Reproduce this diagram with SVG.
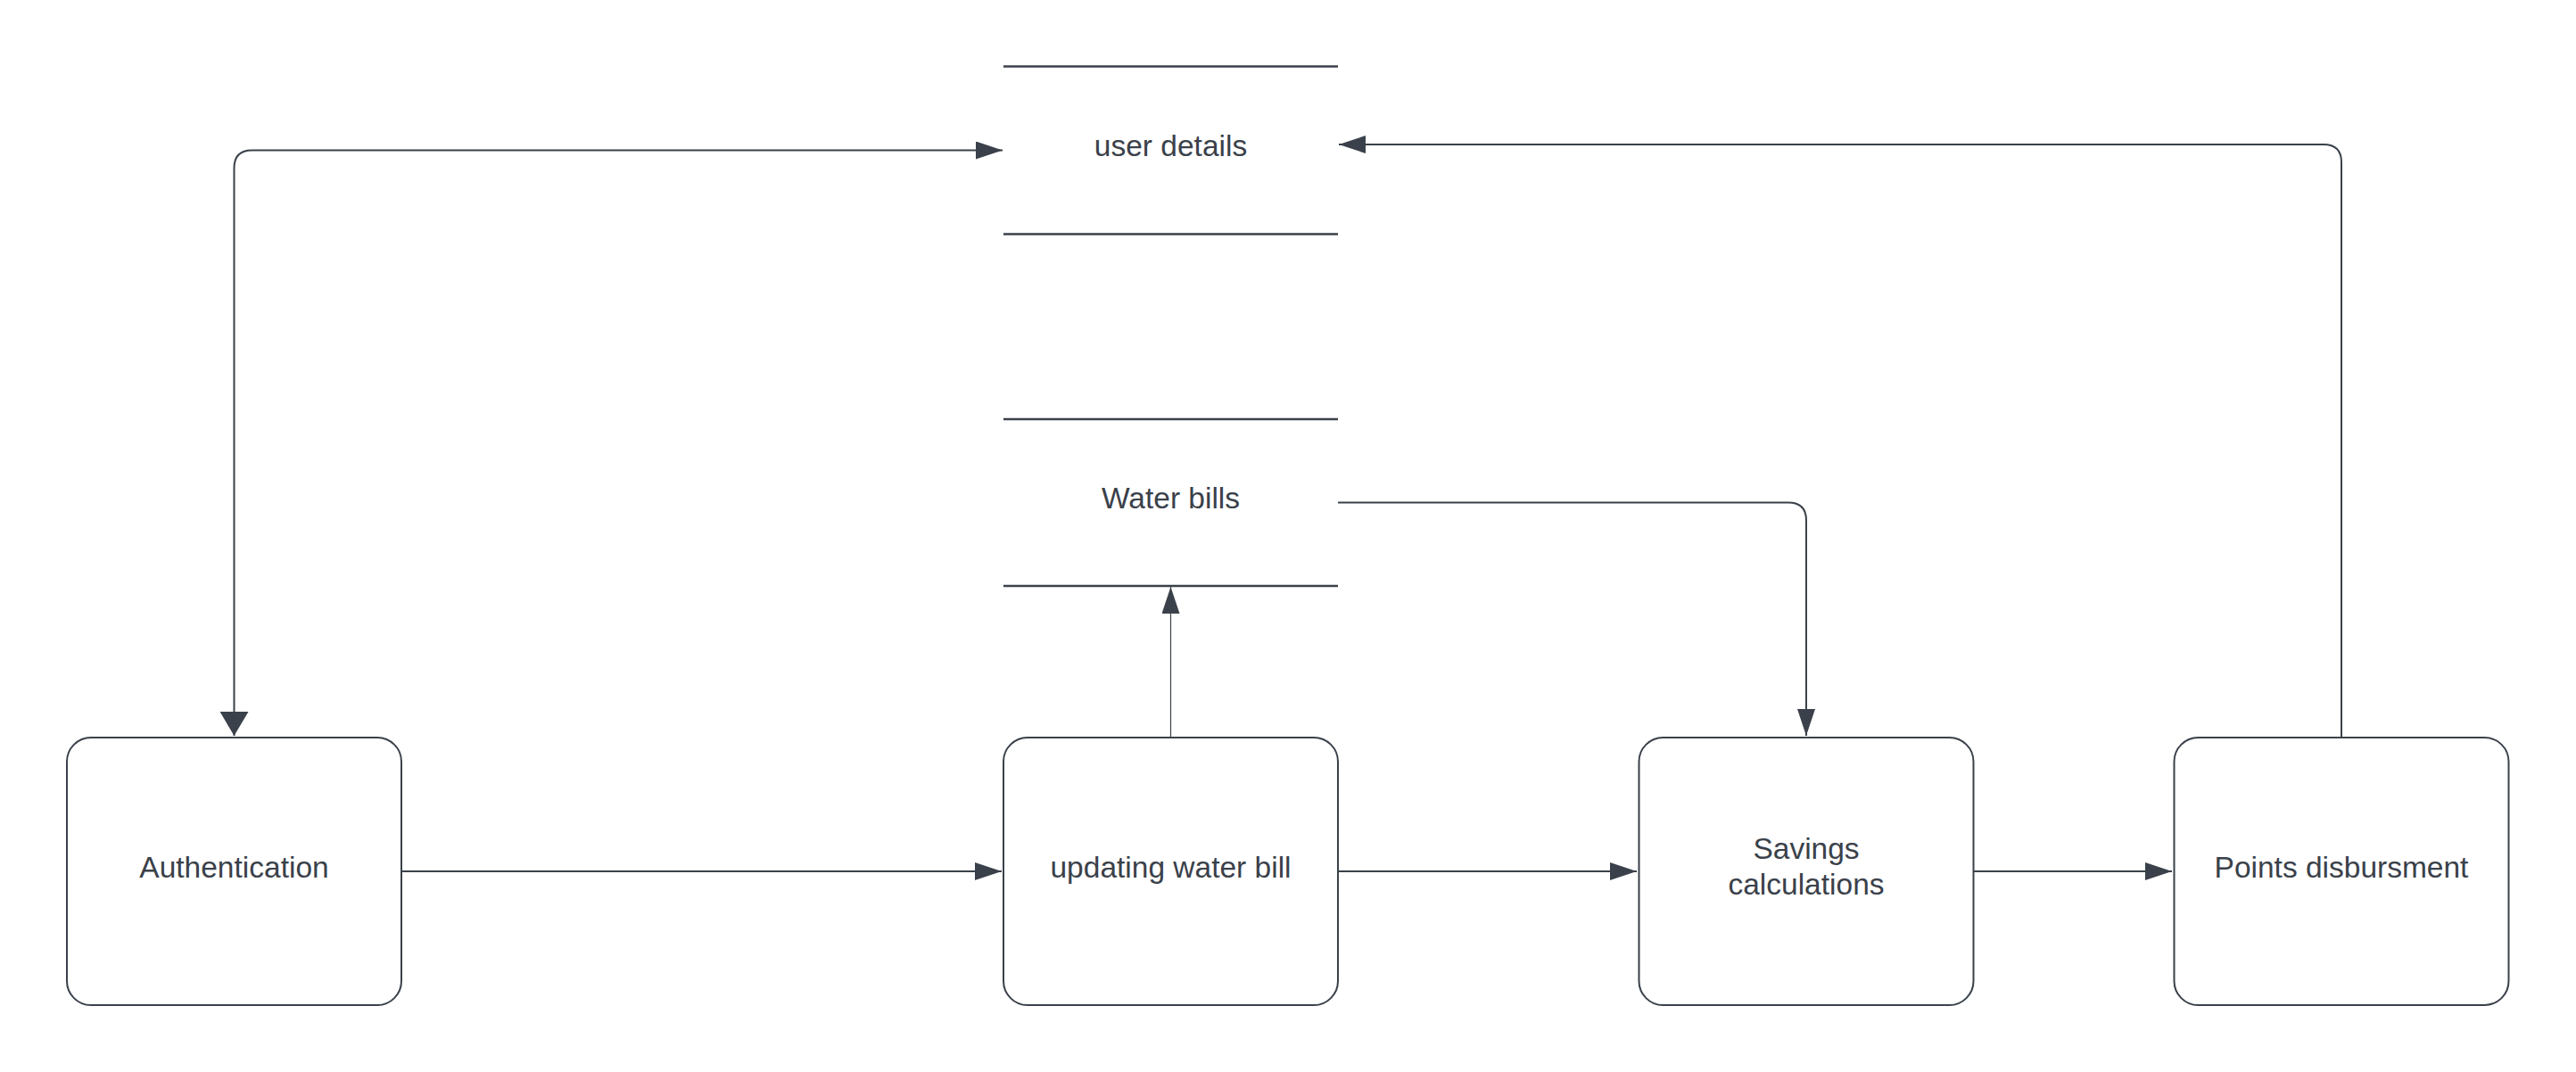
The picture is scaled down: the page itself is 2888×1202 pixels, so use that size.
<svg xmlns="http://www.w3.org/2000/svg" width="2888" height="1202" viewBox="0 0 2888 1202">
<style>
.box{fill:#ffffff;stroke:#3a414a;stroke-width:2}
.store{stroke:#3a414a;stroke-width:2.5;fill:none}
.lbl{font-family:"Liberation Sans",Arial,sans-serif;font-size:33.5px;fill:#3a414a;text-anchor:middle}
.con{fill:none;stroke:#3a414a;stroke-width:2}
</style>
<defs>
<marker id="arr" viewBox="0 0 30 20" refX="30" refY="10" markerWidth="30" markerHeight="20" markerUnits="userSpaceOnUse" orient="auto">
<path d="M0,0L30,10L0,20z" fill="#3a414a"/>
</marker>
<marker id="arrBig" viewBox="0 0 27 32" refX="27" refY="16" markerWidth="27" markerHeight="32" markerUnits="userSpaceOnUse" orient="auto-start-reverse">
<path d="M0,0L27,16L0,32z" fill="#3a414a"/>
</marker>
</defs>
<rect width="2888" height="1202" fill="#ffffff"/>
<g id="user-details">
<line class="store" x1="1125" y1="74.5" x2="1500" y2="74.5"/>
<line class="store" x1="1125" y1="262.5" x2="1500" y2="262.5"/>
<text class="lbl" x="1312.5" y="175">user details</text>
</g>
<g id="water-bills">
<line class="store" x1="1125" y1="470" x2="1500" y2="470"/>
<line class="store" x1="1125" y1="657" x2="1500" y2="657"/>
<text class="lbl" x="1312.5" y="570">Water bills</text>
</g>
<g id="authentication">
<rect class="box" x="75" y="827" width="375" height="300" rx="27" ry="27"/>
<text class="lbl" x="262.5" y="984">Authentication</text>
</g>
<g id="updating-water-bill">
<rect class="box" x="1125" y="827" width="375" height="300" rx="27" ry="27"/>
<text class="lbl" x="1312.5" y="984">updating water bill</text>
</g>
<g id="savings-calculations">
<rect class="box" x="1837.5" y="827" width="375" height="300" rx="27" ry="27"/>
<text class="lbl" x="2025" y="963">Savings</text>
<text class="lbl" x="2025" y="1003">calculations</text>
</g>
<g id="points-disbursment">
<rect class="box" x="2437.5" y="827" width="375" height="300" rx="27" ry="27"/>
<text class="lbl" x="2625" y="984">Points disbursment</text>
</g>
<g id="connectors">
<path class="con" d="M262.5,825 V188.5 Q262.5,168.5 282.5,168.5 H1124" marker-end="url(#arr)" marker-start="url(#arrBig)"/>
<path class="con" d="M2625,827 V182 Q2625,162 2605,162 H1501" marker-end="url(#arr)"/>
<path class="con" d="M1500,563.5 H2005 Q2025,563.5 2025,583.5 V825" marker-end="url(#arr)"/>
<path class="con" style="stroke-width:1.2" d="M1312.5,827 V658" marker-end="url(#arr)"/>
<path class="con" d="M450,977 H1123" marker-end="url(#arr)"/>
<path class="con" d="M1500,977 H1835" marker-end="url(#arr)"/>
<path class="con" d="M2212.5,977 H2435" marker-end="url(#arr)"/>
</g>
</svg>
